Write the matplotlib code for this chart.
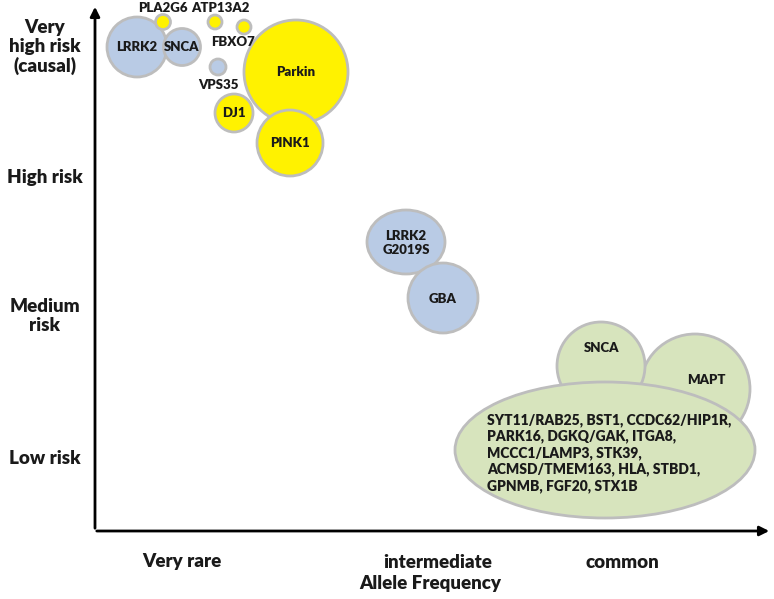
import matplotlib
matplotlib.use("Agg")
import matplotlib.pyplot as plt
from matplotlib.patches import Ellipse, FancyArrowPatch

plt.rcParams['font.family'] = ['Lato', 'DejaVu Sans']

# ---- data (positions in chart units: x = allele frequency axis, y = risk axis, pixel-like) ----
genes    = ["LRRK2", "SNCA", "PLA2G6", "ATP13A2", "FBXO7", "VPS35", "Parkin", "DJ1", "PINK1",
            "LRRK2\nG2019S", "GBA", "MAPT", "SNCA", "GWAS"]
freq_x   = [137, 182, 163, 215, 244, 218, 296, 234, 290, 406, 443, 695, 601, 605]
risk_y   = [47, 47, 22, 22, 27, 67, 72, 113, 143, 242, 298, 389, 366, 450]
width    = [60, 37, 15, 14, 14, 16, 104, 38, 66, 78, 70, 110, 88, 300]
height   = [60, 37, 15, 14, 14, 16, 104, 38, 66, 64, 70, 110, 88, 136]
group    = ["blue", "blue", "yellow", "yellow", "yellow", "blue", "yellow", "yellow", "yellow",
            "blue", "blue", "green", "green", "green"]
label_x  = [137, 182, 163, 220, 233, 218, 296, 234, 290, 406, 443, 706, 602, 487]
label_y  = [47, 47, 8, 8, 42, 85, 72, 113, 143, 243, 299, 380, 348, 453]
gwas_text = ("SYT11/RAB25, BST1, CCDC62/HIP1R,\nPARK16, DGKQ/GAK, ITGA8,\nMCCC1/LAMP3, STK39,\n"
             "ACMSD/TMEM163, HLA, STBD1,\nGPNMB, FGF20, STX1B")

risk_labels = ["Very\nhigh risk\n(causal)", "High risk", "Medium\nrisk", "Low risk"]
risk_pos    = [47, 178, 316, 458]
freq_labels = ["Very rare", "intermediate", "common"]
freq_pos    = [182, 438, 622]

colors = {"blue": "#B9CBE5", "yellow": "#FFF200", "green": "#D7E4BD"}
txt_color = '#1a1a1a'
wt = 'heavy'

fig = plt.figure(figsize=(7.74, 5.99), dpi=100)
ax = fig.add_axes([0, 0, 1, 1])
ax.set_xlim(0, 774)
ax.set_ylim(599, 0)
ax.set_aspect('equal')
ax.axis('off')

for z in range(len(genes)):
    e = Ellipse((freq_x[z], risk_y[z]), width[z], height[z], facecolor=colors[group[z]],
                edgecolor="#BDBDBD", linewidth=2, zorder=2 + z)
    ax.add_patch(e)

for i, g in enumerate(genes):
    if g == "GWAS":
        ax.text(label_x[i], label_y[i], gwas_text, ha='left', va='center', fontsize=10,
                fontweight=wt, color=txt_color, linespacing=1.25, zorder=50)
    else:
        ax.text(label_x[i], label_y[i], g, ha='center', va='center',
                fontsize=9.5, fontweight=wt, color=txt_color,
                linespacing=1.2, zorder=50)

# axes arrows
ax.add_patch(FancyArrowPatch((95, 531), (95, 4), arrowstyle='-|>', mutation_scale=14,
                             color='black', linewidth=2, zorder=60))
ax.add_patch(FancyArrowPatch((94, 531), (772, 531), arrowstyle='-|>', mutation_scale=14,
                             color='black', linewidth=2, zorder=60))

for lab, y in zip(risk_labels, risk_pos):
    ax.text(45, y, lab, ha='center', va='center', fontsize=13.5, fontweight=wt,
            color=txt_color, linespacing=1.15)
for lab, x in zip(freq_labels, freq_pos):
    ax.text(x, 562, lab, ha='center', va='center', fontsize=13.5, fontweight=wt, color=txt_color)
ax.text(430, 584, "Allele Frequency", ha='center', va='center', fontsize=13.5,
        fontweight=wt, color=txt_color)

fig.savefig("out.png", dpi=100)
